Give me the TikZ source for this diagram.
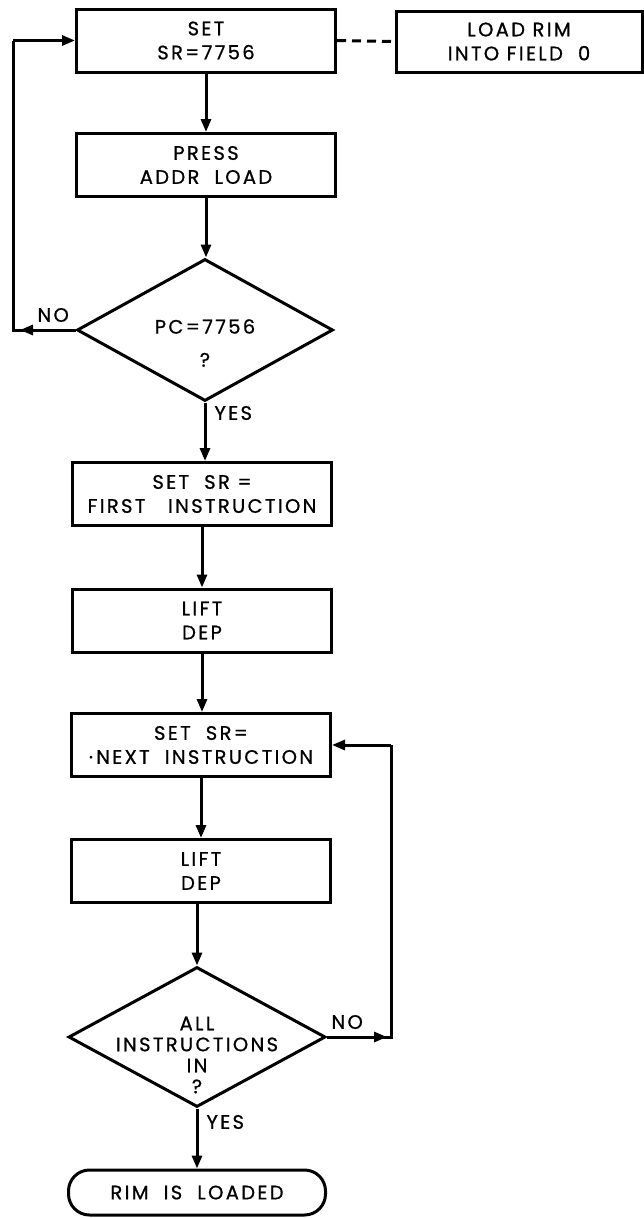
\documentclass[tikz,border=0pt]{standalone}
\usepackage{fontspec}
\setmainfont{Poppins}[LetterSpace=12,FakeBold=0.8]
\usetikzlibrary{shapes.geometric,arrows.meta,calc}
\begin{document}
\begin{tikzpicture}[x=1pt,y=-1pt,
  line width=3pt,
  every node/.style={font=\fontsize{19.5}{24}\selectfont},
  box/.style={draw, rectangle, minimum width=259pt, minimum height=63pt, align=center, inner sep=0pt},
  dia/.style={draw, diamond, minimum width=256pt, minimum height=142pt, inner sep=0pt},
  term/.style={draw, rectangle, rounded corners=21pt, minimum width=257pt, minimum height=45pt, inner sep=0pt},
  txt/.style={inner sep=0pt, align=center},
  lbl/.style={inner sep=0pt, anchor=west},
  arr/.style={-{Triangle[length=13pt,width=10pt]}},
  link/.style={dash pattern=on 9pt off 6pt},
]
\useasboundingbox (0,0) rectangle (644,1218);

\node[box] (b1) at (206,40.5) {SET\\SR=7756};
\node[box, minimum width=246pt, minimum height=61pt] (rim) at (519,41.5) {LOAD RIM\\INTO FIELD\ \ 0};
\node[box] (b2) at (206,165) {PRESS\\ADDR\ \ LOAD};
\node[dia] (d1) at (205,330) {};
\node[txt] (t1) at (205,343) {PC=7756\\[9pt]?};
\node[box] (b3) at (202,494) {SET\ \ SR =\\FIRST\ \ \ INSTRUCTION};
\node[box] (b4) at (202,620.5) {LIFT\\DEP};
\node[box] (b5) at (201,745) {SET\ \ SR=\\·\,NEXT\ \ INSTRUCTION};
\node[box] (b6) at (201,871) {LIFT\\DEP};
\node[dia, minimum width=257pt, minimum height=140pt] (d2) at (197,1037) {};
\node[txt, font=\fontsize{19.5}{21}\selectfont] (t2) at (197,1055) {ALL\\INSTRUCTIONS\\IN\\?};
\node[term] (end) at (197,1192.5) {RIM\ \ IS\ \ LOADED};

\node[lbl] (no1) at (36,315) {NO};
\node[lbl] (yes1) at (213,413) {YES};
\node[lbl] (no2) at (330,1022) {NO};
\node[lbl] (yes2) at (205,1122) {YES};

\draw[arr] (b1.south) -- (b2.north);
\draw[arr] (b2.south) -- (b2.south |- d1.north);
\draw[arr] (d1.south) -- (d1.south |- b3.north);
\draw[arr] (b3.south) -- (b4.north);
\draw[arr] (b4.south) -- (b4.south |- b5.north);
\draw[arr] (b5.south) -- (b6.north);
\draw[arr] (d2.north |- b6.south) -- (d2.north);
\draw[arr] (d2.south) -- (end.north);

\draw[link] (b1.east) -- (rim.west);

\coordinate (c1) at (13,330);
\coordinate (c2) at (13,40.5);
\draw (d1.west) -- (c1) -- (c2);
\draw[arr] (c2) -- (b1.west);
\draw[arr] (d1.west) -- ($(c1)+(7,0)$);

\coordinate (c3) at (391,1037);
\coordinate (c4) at (391,745);
\draw (d2.east) -- (c3) -- (c4);
\draw[arr] (c4) -- (b5.east);
\draw[arr] (d2.east) -- ($(c3)+(-4,0)$);
\end{tikzpicture}
\end{document}
